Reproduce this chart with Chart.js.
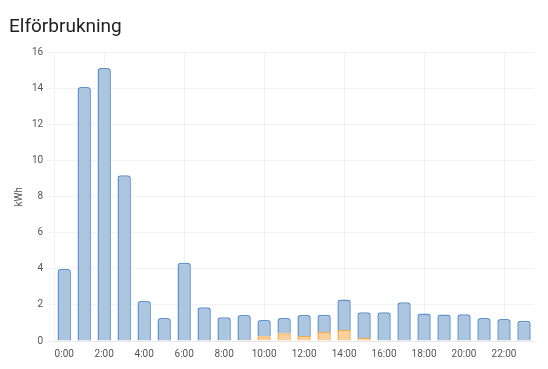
<!DOCTYPE html>
<html>
<head>
<meta charset="utf-8">
<script src="https://cdn.jsdelivr.net/npm/chart.js@4"></script>
<style>
html,body{margin:0;padding:0;background:#fff;}
#wrap{position:absolute;left:0;top:0;width:548px;height:369px;}
</style>
</head>
<body>
<div id="wrap"><canvas id="c" width="548" height="369"></canvas></div>
<script>
const hours = ["0:00","1:00","2:00","3:00","4:00","5:00","6:00","7:00","8:00","9:00","10:00","11:00","12:00","13:00","14:00","15:00","16:00","17:00","18:00","19:00","20:00","21:00","22:00","23:00"];
const solarKWh = [0,0,0,0,0,0,0,0,0,0.06,0.26,0.43,0.28,0.5,0.61,0.17,0,0,0,0,0,0,0,0];
const gridKWh = [4.0,14.1,15.15,9.2,2.22,1.27,4.35,1.87,1.32,1.38,0.9,0.85,1.17,0.96,1.69,1.42,1.6,2.15,1.53,1.47,1.48,1.27,1.22,1.12];
const yTicks = [0,2,4,6,8,10,12,14,16];
const titleText = "Elförbrukning";
const yTitle = "kWh";

const gridColor = "rgba(0,0,0,0.05)";
new Chart(document.getElementById("c"), {
  type: "bar",
  data: {
    labels: hours,
    datasets: [
      {
        label: "Sol",
        data: solarKWh,
        backgroundColor: "#fad19e",
        borderColor: "#f6a849",
        borderWidth: 1.5,
        barPercentage: 0.67,
        categoryPercentage: 1
      },
      {
        label: "Nät",
        data: gridKWh,
        backgroundColor: "#adc6e0",
        borderColor: "#6193cb",
        borderWidth: 1.5,
        borderRadius: {topLeft: 3, topRight: 3},
        borderSkipped: "bottom",
        barPercentage: 0.67,
        categoryPercentage: 1
      }
    ]
  },
  options: {
    responsive: false,
    animation: false,
    layout: {padding: {left: 9, right: 14, top: 0, bottom: 2}},
    plugins: {
      legend: {display: false},
      tooltip: {enabled: false},
      title: {
        display: true,
        text: titleText,
        align: "start",
        color: "#212121",
        font: {family: "Roboto", size: 19, weight: "normal"},
        padding: {top: 16, bottom: 14}
      }
    },
    scales: {
      x: {
        stacked: true,
        grid: {
          offset: false,
          color: (ctx) => (ctx.index % 2 === 1 ? gridColor : "rgba(0,0,0,0)"),
          drawTicks: false
        },
        border: {display: true, color: gridColor},
        ticks: {
          autoSkip: false,
          maxRotation: 0,
          padding: 7,
          color: "#555",
          font: {family: "Roboto", size: 10},
          callback: function(v, i) { return i % 2 === 0 ? hours[i] : null; }
        }
      },
      y: {
        stacked: true,
        min: 0,
        max: 16,
        afterBuildTicks: (axis) => { axis.ticks = yTicks.map(v => ({value: v})); },
        grid: {color: gridColor},
        border: {display: true, color: gridColor},
        ticks: {color: "#555", font: {family: "Roboto", size: 10}},
        title: {display: true, text: yTitle, color: "#555", font: {family: "Roboto", size: 10}}
      }
    }
  }
});
</script>
</body>
</html>
